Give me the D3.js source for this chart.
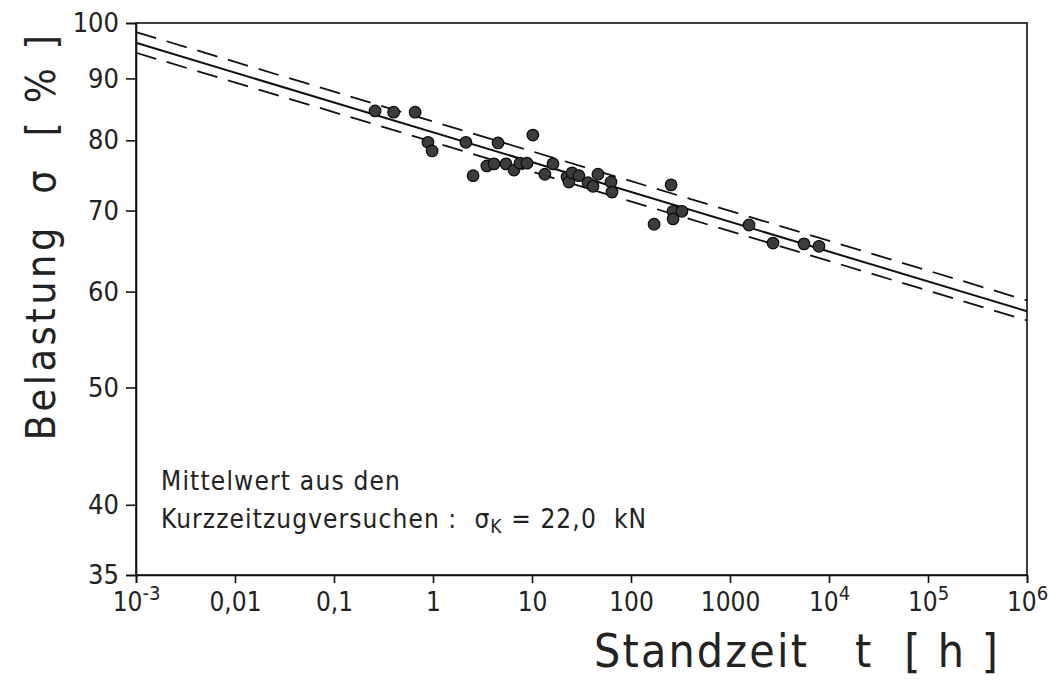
<!DOCTYPE html>
<html>
<head>
<meta charset="utf-8">
<script src="https://cdn.jsdelivr.net/npm/d3@7"></script>
<style>
  body { margin: 0; background: #fff; }
  text { font-family: "DejaVu Sans Condensed", "DejaVu Sans", sans-serif; fill: #222; }
</style>
</head>
<body>
<div id="chart"></div>
<script>
/* values */
const standzeit = [0.26, 0.40, 0.66, 0.89, 0.98, 2.15, 2.54, 3.5, 4.13, 4.54, 5.46, 6.58, 7.57, 8.9,
  10.2, 13.5, 16.3, 22.6, 23.6, 25.4, 29.8, 36.8, 41.3, 46.4, 62.8, 64.3, 171, 254, 266, 266, 327,
  1556, 2718, 5590, 7925];
const belastung = [84.6, 84.4, 84.4, 79.7, 78.4, 79.7, 74.8, 76.2, 76.5, 79.6, 76.5, 75.6, 76.6, 76.6,
  80.8, 75.0, 76.5, 74.6, 73.9, 75.2, 74.8, 73.8, 73.3, 75.0, 73.9, 72.5, 68.2, 73.5, 69.9, 68.9, 69.9,
  68.1, 65.8, 65.7, 65.4];

/* regression line and scatter band, given at t = 1e-3 h and t = 1e6 h */
const lineT = [1e-3, 1e6];
const mittel = [96.3, 57.8];
const oberGrenze = [98.3, 59.0];
const unterGrenze = [94.5, 56.8];

const xTicks = [1e-3, 0.01, 0.1, 1, 10, 100, 1000, 1e4, 1e5, 1e6];
const xTickLabels = ["10^-3", "0,01", "0,1", "1", "10", "100", "1000", "10^4", "10^5", "10^6"];
const yTicks = [35, 40, 50, 60, 70, 80, 90, 100];
const yTickLabels = ["35", "40", "50", "60", "70", "80", "90", "100"];

const w = 1050;
const h = 682;
const pLeft = 136, pRight = 1027, pTop = 23, pBottom = 575;

const x = d3.scaleLog().domain([1e-3, 1e6]).range([pLeft, pRight]);
const y = d3.scaleLog().domain([35, 100]).range([pBottom, pTop]);

const svg = d3.select("#chart").append("svg")
  .attr("width", w)
  .attr("height", h);

// frame
svg.append("rect")
  .attr("x", pLeft).attr("y", pTop)
  .attr("width", pRight - pLeft).attr("height", pBottom - pTop)
  .attr("fill", "none").attr("stroke", "#111").attr("stroke-width", 1.6);

// x axis
const xAxis = d3.axisBottom(x)
  .tickValues(xTicks)
  .tickSize(8)
  .tickPadding(10)
  .tickFormat((d, i) => xTickLabels[i]);

const gx = svg.append("g")
  .attr("transform", "translate(0," + pBottom + ")")
  .call(xAxis);
gx.select(".domain").attr("stroke-width", 1.6).attr("stroke", "#111");
gx.selectAll(".tick line").attr("stroke-width", 1.6).attr("stroke", "#111");
gx.selectAll(".tick text")
  .attr("font-size", 26)
  .attr("fill", "#222")
  .each(function (d, i) {
    const lab = xTickLabels[i];
    if (lab.indexOf("^") >= 0) {
      const parts = lab.split("^");
      const t = d3.select(this).text(null);
      t.append("tspan").text(parts[0]);
      t.append("tspan").attr("dy", -11).attr("font-size", 20).text(parts[1]);
    }
  });

// y axis
const yAxis = d3.axisLeft(y)
  .tickValues(yTicks)
  .tickSize(10)
  .tickPadding(7)
  .tickFormat((d, i) => yTickLabels[i]);

const gy = svg.append("g")
  .attr("transform", "translate(" + pLeft + ",0)")
  .call(yAxis);
gy.select(".domain").attr("stroke-width", 1.6).attr("stroke", "#111");
gy.selectAll(".tick line").attr("stroke-width", 1.6).attr("stroke", "#111");
gy.selectAll(".tick text").attr("font-size", 27).attr("fill", "#222");

// regression lines
const line = d3.line()
  .x(d => x(d[0]))
  .y(d => y(d[1]));

const plot = svg.append("g");

plot.append("path")
  .datum(lineT.map((t, i) => [t, mittel[i]]))
  .attr("d", line)
  .attr("fill", "none").attr("stroke", "#111").attr("stroke-width", 2);

[oberGrenze, unterGrenze].forEach(g => {
  plot.append("path")
    .datum(lineT.map((t, i) => [t, g[i]]))
    .attr("d", line)
    .attr("fill", "none").attr("stroke", "#111").attr("stroke-width", 1.8)
    .attr("stroke-dasharray", "21,11");
});

// measured points
plot.selectAll("circle")
  .data(standzeit)
  .enter()
  .append("circle")
  .attr("cx", d => x(d))
  .attr("cy", (d, i) => y(belastung[i]))
  .attr("r", 5.8)
  .attr("fill", "#3c3c3c")
  .attr("stroke", "#0a0a0a")
  .attr("stroke-width", 1.2);

// note inside the plot
svg.append("text")
  .attr("x", 161).attr("y", 490)
  .attr("font-size", 26)
  .attr("letter-spacing", 1.2)
  .text("Mittelwert aus den");

const note2 = svg.append("text")
  .attr("x", 161).attr("y", 528)
  .attr("font-size", 26)
  .attr("letter-spacing", 1.1)
  .style("white-space", "pre");
note2.append("tspan").text("Kurzzeitzugversuchen :  σ");
note2.append("tspan").attr("dy", 5).attr("font-size", 19).text("K");
note2.append("tspan").attr("dy", -5).text(" = 22,0  kN");

// axis titles
svg.append("text")
  .attr("transform", "translate(55,236) rotate(-90)")
  .attr("text-anchor", "middle")
  .attr("font-size", 41)
  .attr("letter-spacing", 3.5)
  .style("white-space", "pre")
  .text("Belastung  σ  [ % ]");

svg.append("text")
  .attr("x", 1000).attr("y", 667)
  .attr("text-anchor", "end")
  .attr("font-size", 46)
  .attr("letter-spacing", 2.2)
  .style("white-space", "pre")
  .text("Standzeit   t  [ h ]");
</script>
</body>
</html>
